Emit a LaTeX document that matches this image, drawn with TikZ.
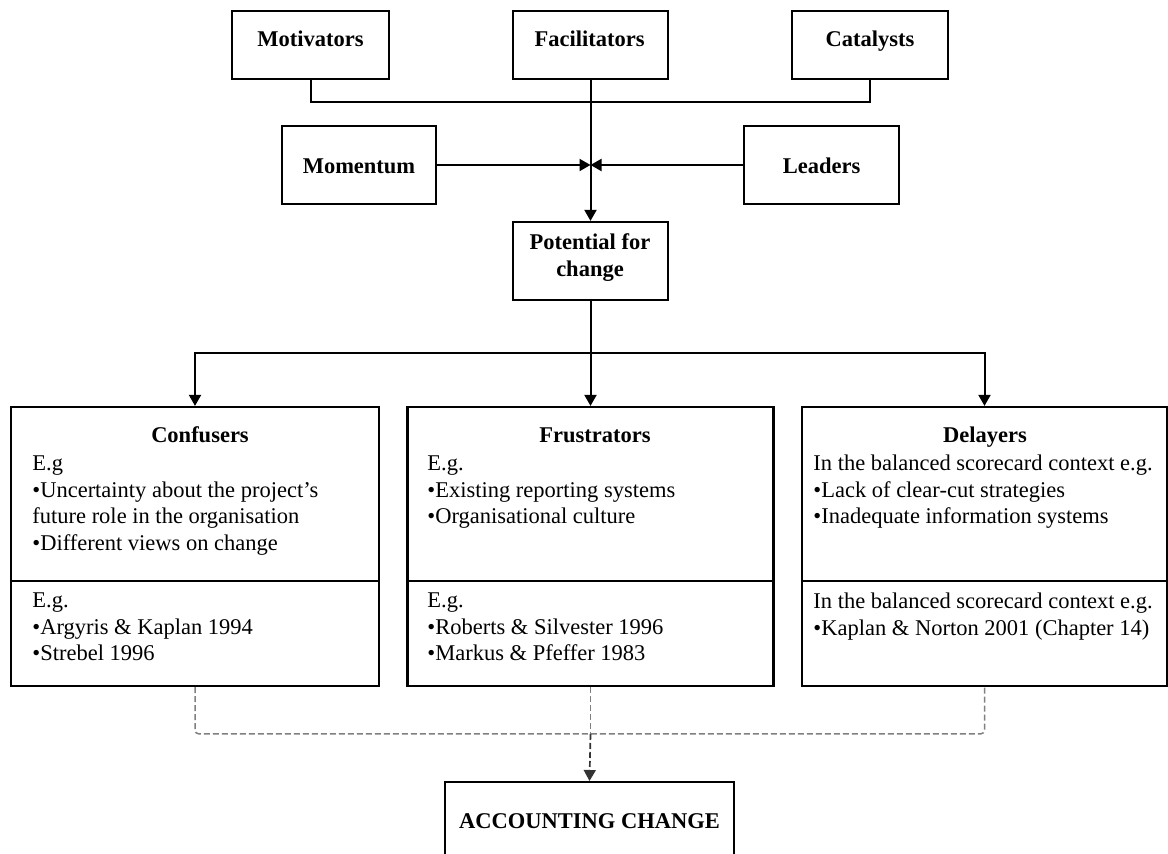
\documentclass[tikz,border=0pt]{standalone}
\usepackage{fontspec}
\setmainfont{Liberation Serif}
\usetikzlibrary{arrows.meta}

% stacked lines with a fixed baseline distance; the block's baseline is its first line
\newcommand\txtblock[2]{\vtop{\baselineskip=13.25pt\lineskiplimit=-20pt\halign{#1##\hfil\cr#2\crcr}}}

\begin{document}
\begin{tikzpicture}[x=0.5pt,y=-0.5pt,
  box/.style={draw, line width=1.1pt, inner sep=0pt},
  rule/.style={line width=1.1pt},
  head/.style={font=\fontsize{11.25}{13.25}\selectfont\bfseries, inner sep=0pt, anchor=base},
  body/.style={font=\fontsize{11.25}{13.25}\selectfont, inner sep=0pt, anchor=base west},
  centred/.style={font=\fontsize{11.25}{13.25}\selectfont\bfseries, inner sep=0pt, anchor=base},
  link/.style={line width=1pt},
  arr/.style={link, -{Triangle[length=5.5pt,width=6pt]}},
  faint/.style={line width=0.75pt, draw=black!50, dash pattern=on 3pt off 1.5pt, rounded corners=2pt},
  faintarr/.style={line width=0.85pt, draw=black!80, dash pattern=on 3pt off 1.5pt, -{Triangle[length=5.5pt,width=6pt]}}
]
\useasboundingbox (0,0) rectangle (1168,854);
\clip (0,0) rectangle (1168,854);

% top row
\node[box, minimum width=78.5pt, minimum height=34pt] (mot) at (310.5,45) {};
\node[head] (motT) at (310.5,47) {Motivators};
\node[box, minimum width=77.5pt, minimum height=34pt] (fac) at (590.5,45) {};
\node[head] (facT) at (589.5,47) {Facilitators};
\node[box, minimum width=78pt, minimum height=34pt] (cat) at (870,45) {};
\node[head] (catT) at (870,47) {Catalysts};

% second row
\node[box, minimum width=77pt, minimum height=39pt] (mom) at (359,165) {};
\node[head] (momT) at (359,174) {Momentum};
\node[box, minimum width=77.5pt, minimum height=39pt] (lea) at (821.5,165) {};
\node[head] (leaT) at (821.5,174) {Leaders};

% potential for change
\node[box, minimum width=77.5pt, minimum height=39pt] (pot) at (590.5,261) {};
\node[centred] (potT) at (590,250) {\txtblock{\hfil}{Potential for\cr change}};

% joining lines above
\coordinate (topj) at (590.5,102);
\coordinate (midj) at (590.5,165);
\draw[link] (mot.south) |- (topj) -| (cat.south);
\draw[arr] (fac.south) -- (pot.north);
\draw[arr] (mom.east) -- (midj);
\draw[arr] (lea.west) -- (midj);

% three categories
\node[box, minimum width=184pt, minimum height=139.5pt] (conf) at (195,546.5) {};
\node[box, minimum width=183pt, minimum height=139.5pt] (frus) at (590.5,546.5) {};
\node[box, minimum width=182.5pt, minimum height=139.5pt] (dela) at (984.5,546.5) {};
\coordinate (cut) at (0,581);
\draw[rule] (conf.west |- cut) -- (conf.east |- cut);
\draw[rule] (frus.west |- cut) -- (frus.east |- cut);
\draw[rule] (dela.west |- cut) -- (dela.east |- cut);

\node[head] (confH) at (200,443) {Confusers};
\node[head] (frusH) at (595,443) {Frustrators};
\node[head] (delaH) at (985,443) {Delayers};

\node[body] (confA) at (32,471) {\txtblock{}{E.g\cr
  •Uncertainty about the project’s\cr
  future role in the organisation\cr
  •Different views on change}};
\node[body] (confB) at (32,608) {\txtblock{}{E.g.\cr
  •Argyris \& Kaplan 1994\cr
  •Strebel 1996}};

\node[body] (frusA) at (427,471) {\txtblock{}{E.g.\cr
  •Existing reporting systems\cr
  •Organisational culture}};
\node[body] (frusB) at (427,608) {\txtblock{}{E.g.\cr
  •Roberts \& Silvester 1996\cr
  •Markus \& Pfeffer 1983}};

\node[body] (delaA) at (813,471) {\txtblock{}{In the balanced scorecard context e.g.\cr
  •Lack of clear-cut strategies\cr
  •Inadequate information systems}};
\node[body] (delaB) at (813,609) {\txtblock{}{In the balanced scorecard context e.g.\cr
  •Kaplan \& Norton 2001 (Chapter 14)}};

% split below potential for change
\coordinate (split) at (590.5,353);
\draw[link] (pot.south) -- (split);
\draw[arr] (split) -| (conf.north);
\draw[arr] (split) -- (frus.north);
\draw[arr] (split) -| (dela.north);

% accounting change
\node[box, minimum width=144.5pt, minimum height=60pt, anchor=north] (acc) at (589.5,781) {};
\node[head] (accT) at (589.5,829) {ACCOUNTING CHANGE};

\coordinate (merge) at (590.5,734);
\draw[faint] (conf.south) |- (merge) -| (dela.south);
\draw[faint] (frus.south) -- (merge);
\draw[faintarr] (merge) -- (acc.north);
\end{tikzpicture}
\end{document}
